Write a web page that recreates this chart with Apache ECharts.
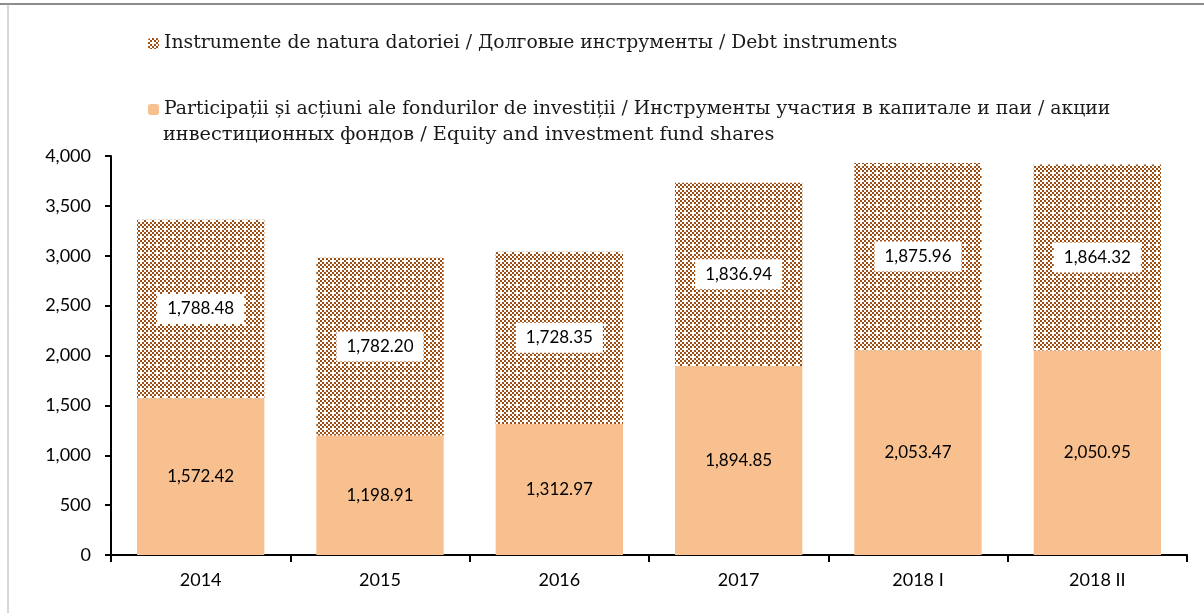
<!DOCTYPE html>
<html>
<head>
<meta charset="utf-8">
<script src="https://cdn.jsdelivr.net/npm/echarts@6/dist/echarts.min.js"></script>
<style>
  html, body { margin: 0; padding: 0; background: #fff; }
  #chart { width: 1204px; height: 613px; }
</style>
</head>
<body>
<div id="chart"></div>
<script>
var categories = ['2014', '2015', '2016', '2017', '2018 I', '2018 II'];
var equity = [1572.42, 1198.91, 1312.97, 1894.85, 2053.47, 2050.95];
var debt = [1788.48, 1782.20, 1728.35, 1836.94, 1875.96, 1864.32];
var yTicks = [0, 500, 1000, 1500, 2000, 2500, 3000, 3500, 4000];

var debtName = 'Instrumente de natura datoriei / Долговые инструменты / Debt instruments';
var equityName = 'Participații și acțiuni ale fondurilor de investiții / Инструменты участия в капитале и паи / акции';
var equityName2 = 'инвестиционных фондов / Equity and investment fund shares';

// brown checker pattern with small white spots
function makePattern() {
    var c = document.createElement('canvas');
    c.width = 8; c.height = 8;
    var ctx = c.getContext('2d');
    ctx.fillStyle = '#fff';
    ctx.fillRect(0, 0, 8, 8);
    ctx.fillStyle = '#a04e12';
    for (var y = 0; y < 8; y += 2) {
        for (var x = 0; x < 8; x += 2) {
            if (((x + y) / 2) % 2 === 0) ctx.fillRect(x, y, 2, 2);
        }
    }
    ctx.fillStyle = '#fff';
    ctx.fillRect(4, 4, 2, 2);
    return c;
}
var pattern = { image: makePattern(), repeat: 'repeat' };

var chart = echarts.init(document.getElementById('chart'));

function fmt(v) {
    return v.toLocaleString('en-US', { minimumFractionDigits: 2, maximumFractionDigits: 2 });
}

var legendText = { fontFamily: 'DejaVu Serif', fontSize: 18.8, color: '#1a1a1a' };

var option = {
    animation: false,
    backgroundColor: '#fff',
    graphic: [
        { type: 'line', shape: { x1: 0, y1: 4, x2: 1204, y2: 4 }, style: { stroke: '#8c8c8c', lineWidth: 2 } },
        { type: 'line', shape: { x1: 8, y1: 4, x2: 8, y2: 613 }, style: { stroke: '#b0b0b0', lineWidth: 1 } },
        { type: 'text', left: 163, top: 125, style: { text: equityName2, font: '19.3px "DejaVu Serif"', fill: '#1a1a1a' } }
    ],
    legend: [
        {
            data: [debtName], left: 143, top: 29, itemWidth: 11, itemHeight: 11,
            textStyle: legendText
        },
        {
            data: [equityName], left: 143, top: 95, itemWidth: 11, itemHeight: 11,
            textStyle: legendText
        }
    ],
    grid: { left: 111, right: 17, top: 156, bottom: 58 },
    xAxis: {
        type: 'category',
        data: categories,
        axisLine: { lineStyle: { color: '#000', width: 2 } },
        axisTick: { show: true, length: 7, lineStyle: { color: '#000', width: 2 } },
        axisLabel: { fontFamily: 'Lato', fontSize: 18, color: '#000', margin: 16 }
    },
    yAxis: {
        type: 'value',
        min: yTicks[0],
        max: yTicks[yTicks.length - 1],
        interval: 500,
        axisLine: { show: true, lineStyle: { color: '#000', width: 2 } },
        axisTick: { show: true, length: 6, lineStyle: { color: '#000', width: 2 } },
        splitLine: { show: false },
        axisLabel: {
            fontFamily: 'Lato', fontSize: 18, color: '#000', margin: 20,
            formatter: function (v) { return v.toLocaleString('en-US'); }
        }
    },
    series: [
        {
            name: equityName,
            type: 'bar',
            stack: 'total',
            data: equity,
            barWidth: '71%',
            itemStyle: { color: '#f9c08f' },
            label: {
                show: true, position: 'inside',
                fontFamily: 'Lato', fontSize: 17, color: '#000',
                formatter: function (p) { return fmt(p.value); }
            }
        },
        {
            name: debtName,
            type: 'bar',
            stack: 'total',
            data: debt,
            barWidth: '71%',
            itemStyle: { color: pattern },
            label: {
                show: true, position: 'inside',
                fontFamily: 'Lato', fontSize: 17, color: '#000',
                backgroundColor: '#fff', padding: [7, 10, 6, 10],
                formatter: function (p) { return fmt(p.value); }
            }
        }
    ]
};

chart.setOption(option);
</script>
</body>
</html>
